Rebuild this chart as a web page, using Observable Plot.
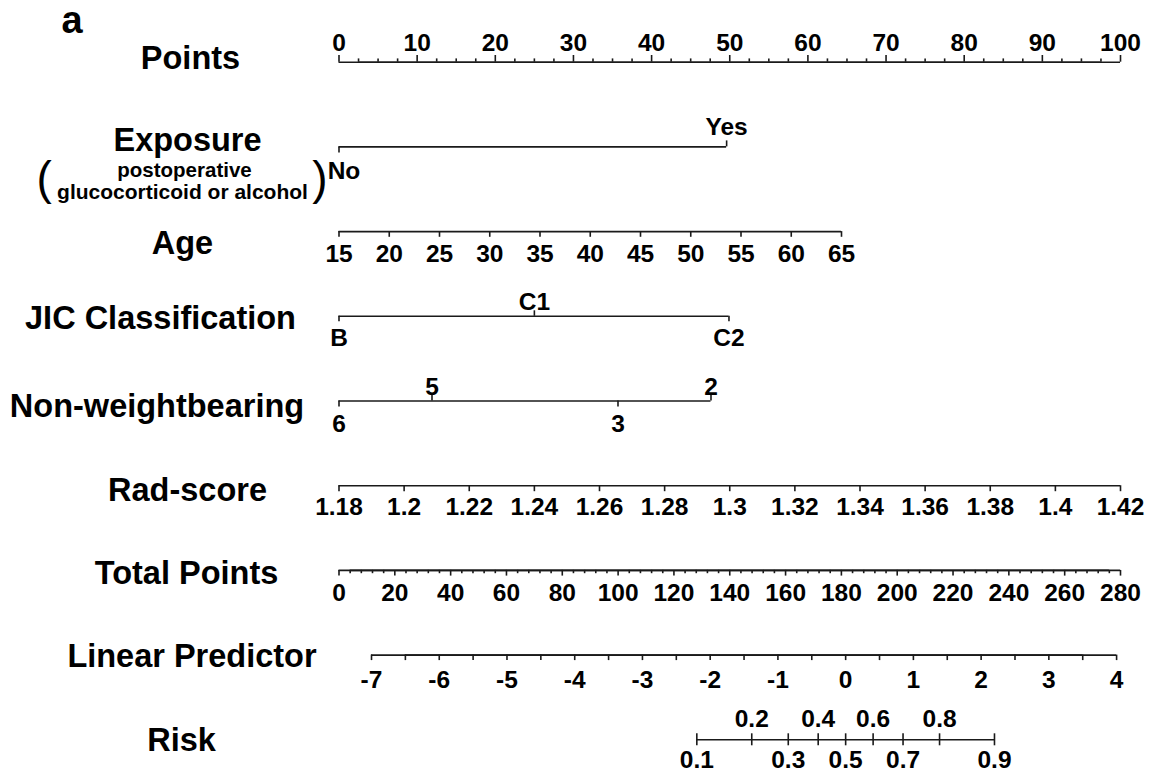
<!DOCTYPE html>
<html>
<head>
<meta charset="utf-8">
<script src="https://cdn.jsdelivr.net/npm/d3@7"></script>
<script src="https://cdn.jsdelivr.net/npm/@observablehq/plot@0.6"></script>
<style>
  html, body { margin: 0; padding: 0; background: #fff; }
  #chart svg { display: block; }
</style>
</head>
<body>
<div id="chart"></div>
<script>
// ---------- data ----------
const rowNames = ["Points", "Exposure", "Age", "JIC Classification", "Non-weightbearing",
                  "Rad-score", "Total Points", "Linear Predictor", "Risk"];

const pointsTicks = [0, 10, 20, 30, 40, 50, 60, 70, 80, 90, 100];

const exposureLevels = ["No", "Yes"];
const exposurePoints = [0, 49.6];

const ageTicks = [15, 20, 25, 30, 35, 40, 45, 50, 55, 60, 65];
const agePointsAt65 = 64.3;          // points for age 65 (age 15 = 0)

const jicLevels = ["B", "C1", "C2"];
const jicPoints = [0, 25.0, 49.9];

const nwbLevels = ["6", "5", "3", "2"];
const nwbPoints = [0, 11.9, 35.7, 47.6];

const radTicks = [1.18, 1.2, 1.22, 1.24, 1.26, 1.28, 1.3, 1.32, 1.34, 1.36, 1.38, 1.4, 1.42];

const totalTicks = [0, 20, 40, 60, 80, 100, 120, 140, 160, 180, 200, 220, 240, 260, 280];

const lpTicks = [-7, -6, -5, -4, -3, -2, -1, 0, 1, 2, 3, 4];
const lpPointsRange = [4.16, 99.5];  // points scale position of LP -7 and LP 4

const riskTicks = [0.1, 0.2, 0.3, 0.4, 0.5, 0.6, 0.7, 0.8, 0.9];

// label sides (layout)
const exposureSides = ["below", "above"];
const exposureNudge = [5, 0];        // px shift of the labels
const jicSides = ["below", "above", "below"];
const nwbSides = ["below", "above", "below", "above"];
const riskSides = ["below", "above", "below", "above", "below", "above", "below", "above", "below"];

// ---------- model mappings onto the Points scale ----------
const toPts = {
  age: v => (v - 15) / 50 * agePointsAt65,
  rad: v => (v - 1.18) / (1.42 - 1.18) * 100,
  total: v => v / 280 * 100,
  lp: v => lpPointsRange[0] + (v + 7) / 11 * (lpPointsRange[1] - lpPointsRange[0]),
  risk: p => toPts.lp(Math.log(p / (1 - p)))
};

// ---------- layout ----------
const xRange = [338.5, 1120];
const pxPerPoint = (xRange[1] - xRange[0]) / 100;
const yTop = 61.7, yBottom = 739.3;
const rowStep = (yBottom - yTop) / (rowNames.length - 1);
const px = p => p / rowStep;   // pixel offset -> row units

const ticks = [], labels = [], lines = [];

function axis(row, xs, labs, sides, dirs, len, gapAbove, gapBelow, nudge) {
  xs.forEach((x, i) => {
    const dir = Array.isArray(dirs) ? dirs[i] : dirs;
    const L = Array.isArray(len) ? len[i] : len;
    const a = dir === "down" ? 0 : -L;
    const b = dir === "up" ? 0 : L;
    ticks.push({x, ya: row + px(a), yb: row + px(b)});
    if (labs && labs[i] != null) {
      const s = Array.isArray(sides) ? sides[i] : sides;
      const n = nudge ? nudge[i] : 0;
      labels.push({x: x + n / pxPerPoint, text: labs[i], side: s,
                   y: row + (s === "above" ? -px(gapAbove) : px(gapBelow))});
    }
  });
  lines.push({row, x1: d3.min(xs), x2: d3.max(xs)});
}

const sideDir = s => (s === "above" ? "up" : "down");

// Points
axis(0, pointsTicks, pointsTicks.map(String), "above", "up", 6.7, 11.7, 0);
const ptsMinor = d3.range(0, 100.001, 2.5).filter(v => v % 10 !== 0);
axis(0, ptsMinor, null, null, "up", 3.3, 0, 0);
// Exposure
axis(1, exposurePoints, exposureLevels, exposureSides, exposureSides.map(sideDir), 6, 11.7, 15, exposureNudge);
// Age
axis(2, ageTicks.map(toPts.age), ageTicks.map(String), "below", "down", 5.7, 0, 13);
// JIC
axis(3, jicPoints, jicLevels, jicSides, jicSides.map(sideDir), 5.5, 6.5, 12.5);
// Non-weightbearing
axis(4, nwbPoints, nwbLevels, nwbSides, nwbSides.map(sideDir), 6, 6.5, 14);
// Rad-score
axis(5, radTicks.map(toPts.rad), radTicks.map(String), "below", "down", 6, 0, 11.5);
// Total points
axis(6, totalTicks.map(toPts.total), totalTicks.map(String), "below", "down", 5.7, 0, 13);
const totMinor = d3.range(0, 281, 4).filter(v => v % 20 !== 0);
axis(6, totMinor.map(toPts.total), null, null, "down", 3.3, 0, 0);
// Linear predictor
axis(7, lpTicks.map(toPts.lp), lpTicks.map(String), "below", "down", 5.5, 0, 15);
const lpMinor = d3.range(-6.5, 4, 1);
axis(7, lpMinor.map(toPts.lp), null, null, "down", 5.5, 0, 0);
// Risk
axis(8, riskTicks.map(toPts.risk), riskTicks.map(String), riskSides, "both", 6, 13, 11);

// row-name layout: centre x (px) and vertical offset (px)
const nameCenterX = [190, 187, 182, 160, 156.5, 187, 186, 191.5, 181];
const nameDy = [-4, -6, 12, 2, 6, 4.5, 2.7, 1, 0.7];

const FONT = "'Liberation Sans', Arial, Helvetica, sans-serif";
const INK = "#1a1a1a";
const TICK_FONT = 24.5;
const NAME_FONT = 32.5;

const nameMarks = rowNames.map((n, i) =>
  Plot.text([n], {
    frameAnchor: "left", y: () => i + px(nameDy[i]), text: d => d,
    dx: nameCenterX[i], textAnchor: "middle", lineAnchor: "middle",
    fontSize: NAME_FONT, fontWeight: "bold", fill: "#000"
  })
);

const chart = Plot.plot({
  width: 1151,
  height: 774,
  margin: 0,
  x: {domain: [0, 100], range: xRange, axis: null},
  y: {domain: [0, rowNames.length - 1], range: [yTop, yBottom], axis: null},
  style: {fontFamily: FONT, background: "#fff", color: "#000", overflow: "visible"},
  marks: [
    Plot.ruleY(lines, {y: "row", x1: "x1", x2: "x2", stroke: INK, strokeWidth: 1.6}),
    Plot.ruleX(ticks, {x: "x", y1: "ya", y2: "yb", stroke: INK, strokeWidth: 1.6}),
    Plot.text(labels.filter(d => d.side === "above"), {
      x: "x", y: "y", text: "text", lineAnchor: "bottom", textAnchor: "middle",
      fontSize: TICK_FONT, fontWeight: "bold", fill: "#000"
    }),
    Plot.text(labels.filter(d => d.side === "below"), {
      x: "x", y: "y", text: "text", lineAnchor: "top", textAnchor: "middle",
      fontSize: TICK_FONT, fontWeight: "bold", fill: "#000"
    }),
    ...nameMarks,
    // Exposure sub-label
    Plot.text(["postoperative"], {
      frameAnchor: "left", y: () => 1 + px(30), text: d => d, dx: 184,
      textAnchor: "middle", lineAnchor: "bottom", fontSize: 20.5, fontWeight: "bold", fill: "#000"
    }),
    Plot.text(["glucocorticoid or alcohol"], {
      frameAnchor: "left", y: () => 1 + px(52), text: d => d, dx: 182,
      textAnchor: "middle", lineAnchor: "bottom", fontSize: 21, fontWeight: "bold", fill: "#000"
    }),
    Plot.text(["("], {
      frameAnchor: "left", y: () => 1 + px(46.7), text: d => d, dx: 36,
      textAnchor: "start", lineAnchor: "bottom", fontSize: 46, fontWeight: "normal", fill: "#000"
    }),
    Plot.text([")"], {
      frameAnchor: "left", y: () => 1 + px(46.7), text: d => d, dx: 327,
      textAnchor: "end", lineAnchor: "bottom", fontSize: 46, fontWeight: "normal", fill: "#000"
    }),
    // panel letter
    Plot.text(["a"], {
      frameAnchor: "top-left", text: d => d, dx: 61, dy: 5.5,
      textAnchor: "start", lineAnchor: "top", fontSize: 38, fontWeight: "bold", fill: "#000"
    })
  ]
});

document.getElementById("chart").appendChild(chart);
</script>
</body>
</html>
